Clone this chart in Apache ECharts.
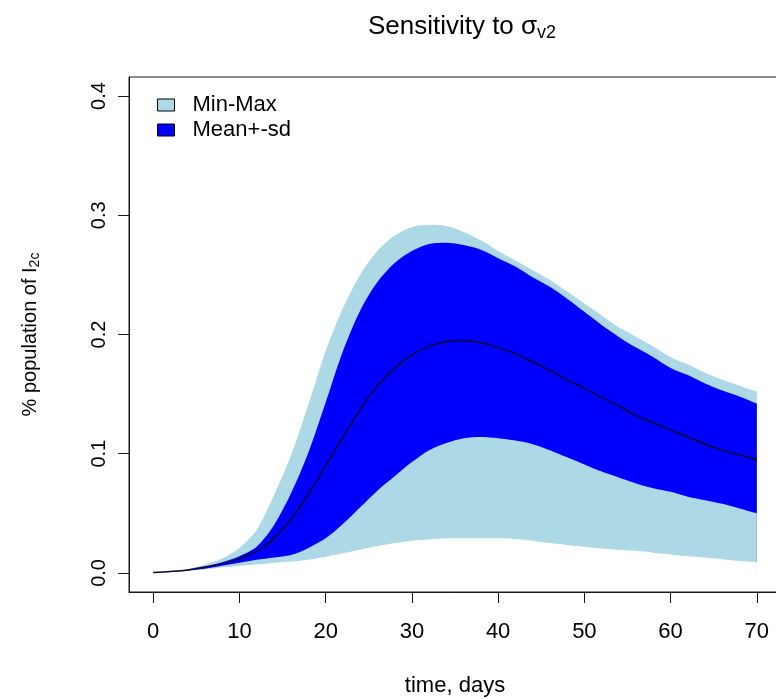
<!DOCTYPE html>
<html>
<head>
<meta charset="utf-8">
<script src="https://cdn.jsdelivr.net/npm/echarts@6.0.0/dist/echarts.min.js"></script>
<style>
  html, body { margin: 0; padding: 0; background: #fff; }
  #chart { width: 776px; height: 699px; }
</style>
</head>
<body>
<div id="chart"></div>
<script>
// time in days (every 2 days)
const days = [0, 2, 4, 6, 8, 10, 12, 14, 16, 18, 20, 22, 24, 26, 28, 30, 32, 34,
  36, 38, 40, 42, 44, 46, 48, 50, 52, 54, 56, 58, 60, 62, 64, 66, 68, 70];

// values
const maxVals = [0.0005, 0.0015, 0.003, 0.007, 0.012, 0.021, 0.036, 0.065, 0.099, 0.141,
  0.186, 0.222, 0.250, 0.270, 0.283, 0.290, 0.292, 0.291, 0.286, 0.279, 0.270, 0.262,
  0.254, 0.246, 0.236, 0.226, 0.216, 0.206, 0.198, 0.190, 0.181, 0.175, 0.168, 0.162,
  0.157, 0.152];
const sdUpper = [0.0005, 0.0012, 0.0025, 0.005, 0.009, 0.014, 0.022, 0.040, 0.067, 0.101,
  0.143, 0.186, 0.220, 0.244, 0.260, 0.270, 0.276, 0.277, 0.275, 0.271, 0.264, 0.257,
  0.248, 0.240, 0.230, 0.219, 0.208, 0.198, 0.189, 0.181, 0.172, 0.166, 0.159, 0.153,
  0.148, 0.142];
const meanVals = [0.0003, 0.0012, 0.0025, 0.005, 0.008, 0.012, 0.018, 0.029, 0.045, 0.066,
  0.090, 0.114, 0.137, 0.157, 0.172, 0.183, 0.190, 0.194, 0.195, 0.193, 0.189, 0.184,
  0.177, 0.170, 0.162, 0.155, 0.147, 0.140, 0.132, 0.126, 0.120, 0.114, 0.108, 0.103,
  0.099, 0.095];
const sdLower = [0.0002, 0.0008, 0.002, 0.0035, 0.006, 0.0085, 0.011, 0.013, 0.015, 0.021,
  0.029, 0.041, 0.055, 0.069, 0.081, 0.093, 0.103, 0.109, 0.113, 0.114, 0.113, 0.111,
  0.108, 0.103, 0.097, 0.091, 0.085, 0.080, 0.075, 0.071, 0.068, 0.064, 0.061, 0.058,
  0.054, 0.050];
const minVals = [0.0002, 0.0007, 0.0015, 0.003, 0.0045, 0.0058, 0.007, 0.0085, 0.0095, 0.011,
  0.0135, 0.0165, 0.0195, 0.0225, 0.025, 0.027, 0.028, 0.029, 0.029, 0.029, 0.029, 0.0285,
  0.027, 0.025, 0.0235, 0.022, 0.0205, 0.0195, 0.0185, 0.017, 0.0155, 0.014, 0.013,
  0.0115, 0.010, 0.0092];

const xTicks = [0, 10, 20, 30, 40, 50, 60, 70];
const yTicks = [0, 0.1, 0.2, 0.3, 0.4];

const LIGHT = "#add8e6";
const BLUE = "#0000ff";
const INK = "#1a1a1a";
const FONT = "'Liberation Sans', Arial, sans-serif";

const pairs = (vals) => days.map((d, i) => [d, vals[i]]);

// filled layers drawn from 0 upwards, later layers cover earlier ones
const band = (name, vals, color) => ({
  name: name,
  type: "line",
  data: pairs(vals),
  symbol: "none",
  silent: true,
  smooth: 0.3,
  lineStyle: { width: 0 },
  itemStyle: { color: color },
  areaStyle: { color: color, opacity: 1, origin: 0 },
});

const chart = echarts.init(document.getElementById("chart"), null, { renderer: "canvas" });

chart.setOption({
  backgroundColor: "#ffffff",
  animation: false,
  textStyle: { fontFamily: FONT },
  title: {
    text: "Sensitivity to {g|σ}{sub|v2}",
    left: 457,
    textAlign: "center",
    top: 7,
    textStyle: {
      fontFamily: FONT,
      fontSize: 26,
      fontWeight: "normal",
      color: "#000",
      rich: {
        g: { fontFamily: FONT, fontSize: 26, color: "#000" },
        sub: { fontFamily: FONT, fontSize: 18, color: "#000", verticalAlign: "bottom", padding: [12, 0, 0, 0] },
      },
    },
  },
  legend: {
    orient: "vertical",
    left: 152,
    top: 88,
    itemWidth: 17,
    itemHeight: 12,
    itemGap: 1,
    icon: "rect",
    selectedMode: false,
    textStyle: { fontFamily: FONT, fontSize: 22, color: "#000", lineHeight: 24, padding: [0, 0, 0, 13] },
    data: [
      { name: "Min-Max", itemStyle: { color: LIGHT, borderColor: "#000", borderWidth: 1 } },
      { name: "Mean+-sd", itemStyle: { color: BLUE, borderColor: "#000", borderWidth: 1 } },
    ],
  },
  grid: {
    left: 129,
    top: 77,
    width: 652,
    height: 515,
    show: true,
    borderColor: INK,
    borderWidth: 1,
    backgroundColor: "transparent",
    containLabel: false,
    outerBoundsMode: "none",
  },
  xAxis: {
    type: "value",
    min: -2.8,
    max: 72.8,
    name: "time, days",
    nameLocation: "middle",
    nameGap: 83,
    nameTextStyle: { fontFamily: FONT, fontSize: 22, color: "#000" },
    axisLine: { show: true, onZero: false, lineStyle: { color: INK, width: 1 } },
    axisTick: { show: true, length: 11, inside: false, customValues: xTicks, lineStyle: { color: INK } },
    axisLabel: { customValues: xTicks, margin: 29, fontFamily: FONT, fontSize: 22, color: "#000" },
    splitLine: { show: false },
  },
  yAxis: {
    type: "value",
    min: -0.016,
    max: 0.416,
    name: "% population of I{sub|2c}",
    nameLocation: "middle",
    nameRotate: 90,
    nameGap: 87,
    nameTextStyle: {
      fontFamily: FONT,
      fontSize: 20,
      color: "#000",
      rich: { sub: { fontFamily: FONT, fontSize: 14, color: "#000", verticalAlign: "bottom", padding: [10, 0, 0, 0] } },
    },
    axisLine: { show: true, onZero: false, lineStyle: { color: INK, width: 1 } },
    axisTick: { show: true, length: 11, inside: false, customValues: yTicks, lineStyle: { color: INK } },
    axisLabel: {
      customValues: yTicks,
      rotate: 90,
      margin: 20,
      fontFamily: FONT,
      fontSize: 20,
      color: "#000",
      formatter: (v) => v.toFixed(1),
    },
    splitLine: { show: false },
  },
  series: [
    band("Min-Max", maxVals, LIGHT),
    band("Mean+-sd", sdUpper, BLUE),
    band("lower sd", sdLower, LIGHT),
    band("min", minVals, "#ffffff"),
    {
      name: "mean",
      type: "line",
      data: pairs(meanVals),
      symbol: "none",
      silent: true,
      smooth: 0.3,
      lineStyle: { color: "#0a0a2a", width: 1.5 },
      itemStyle: { color: "#0a0a2a" },
    },
  ],
});
</script>
</body>
</html>
